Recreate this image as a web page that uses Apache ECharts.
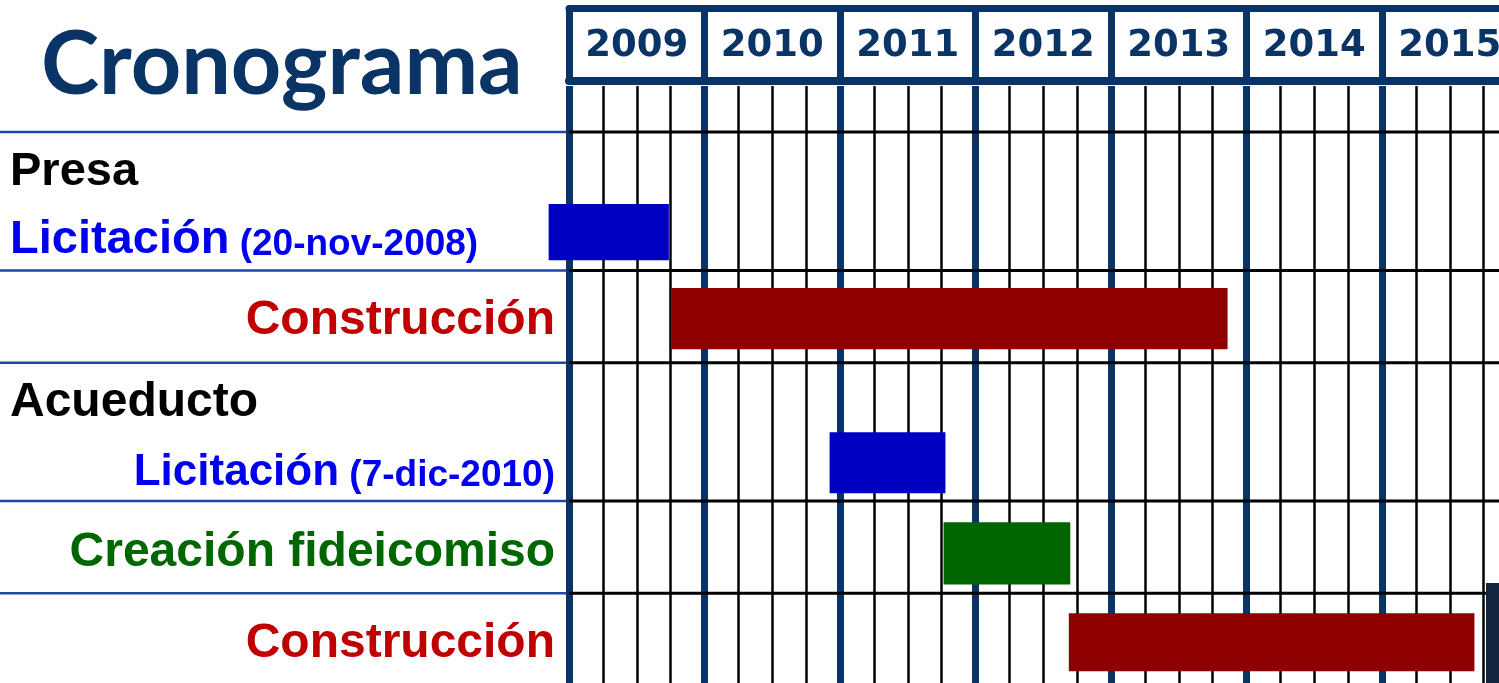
<!DOCTYPE html>
<html><head><meta charset="utf-8">
<script src="https://cdn.jsdelivr.net/npm/echarts@6/dist/echarts.min.js"></script>
<style>html,body{margin:0;padding:0;background:#fff}#c{width:1499px;height:683px}</style>
</head><body><div id="c"></div>
<script>
// ---- data ----
const years = ['2009', '2010', '2011', '2012', '2013', '2014', '2015'];
const taskNames = ['Licitación Presa', 'Construcción Presa', 'Licitación Acueducto', 'Creación fideicomiso', 'Construcción Acueducto'];
const taskStart = ['2008-11-07', '2009-10-04', '2010-12-04', '2011-10-07', '2012-09-09'];
const taskEnd   = ['2009-09-27', '2013-11-11', '2011-10-12', '2012-09-13', '2015-09-07'];
const rowLabels = ['Presa', 'Licitación', 'Construcción', 'Acueducto', 'Licitación', 'Creación fideicomiso', 'Construcción'];
const rowNotes  = ['', '(20-nov-2008)', '', '', '(7-dic-2010)', '', ''];

// ---- layout / style ----
const NAVY = '#0A3366';
const FONT = '"Liberation Sans", Arial, sans-serif';
function decYear(s) {
  const [y, m, d] = s.split('-').map(Number);
  const t0 = Date.UTC(y, 0, 1), t1 = Date.UTC(y + 1, 0, 1);
  return y + (Date.UTC(y, m - 1, d) - t0) / (t1 - t0);
}
// vertical lane units 0..13 on the main y axis
const rowBounds = [1, 4, 6, 9, 11];
const taskBand = [[2.56, 3.78], [4.38, 5.71], [7.51, 8.83], [9.46, 10.81], [11.43, 12.69]];
const taskColor = ['#0000C0', '#8E0000', '#0000C0', '#006400', '#8E0000'];
const labelLayout = [
  { y: 1.82, align: 'left',  color: '#000000', size: 47 },
  { y: 3.3,  align: 'left',  color: '#0000F0', size: 47, noteSize: 37 },
  { y: 5.04, align: 'right', color: '#C00000', size: 48 },
  { y: 6.82, align: 'left',  color: '#000000', size: 48 },
  { y: 8.34, align: 'right', color: '#0000F0', size: 44, noteSize: 37 },
  { y: 10.08, align: 'right', color: '#006600', size: 48 },
  { y: 12.04, align: 'right', color: '#C00000', size: 48 }
];

const GL = 569, GW = 948.5;

const option = {
  animation: false,
  backgroundColor: '#ffffff',
  title: {
    text: 'Cronograma', left: 36, top: 17,
    textStyle: { fontFamily: 'Lato', fontWeight: 'bold', fontSize: 88, color: NAVY, lineHeight: 88 }
  },
  grid: [
    { left: GL, width: GW, top: 8.5, height: 72.5, containLabel: false, outerBoundsMode: 'none' },
    { left: GL, width: GW, top: 85.9, height: 599.7, containLabel: false, outerBoundsMode: 'none' }
  ],
  xAxis: [
    { gridIndex: 0, type: 'category', data: years, position: 'bottom',
      axisLine: { show: true, lineStyle: { color: NAVY, width: 8 } },
      axisTick: { show: false },
      axisLabel: { inside: true, margin: 35, verticalAlign: 'middle', color: NAVY,
        fontFamily: '"DejaVu Sans"', fontWeight: 'bold', fontSize: 37 },
      splitLine: { show: true, interval: 0, lineStyle: { color: NAVY, width: 7 } } },
    { gridIndex: 0, type: 'category', data: years, position: 'top',
      axisLine: { show: true, lineStyle: { color: NAVY, width: 7 } },
      axisTick: { show: false }, axisLabel: { show: false }, splitLine: { show: false } },
    { gridIndex: 1, type: 'value', min: 2009, max: 2016, interval: 0.25,
      axisLine: { show: false }, axisTick: { show: false }, axisLabel: { show: false },
      splitLine: { show: true, lineStyle: { color: '#000000', width: 2.5 } } },
    { gridIndex: 1, type: 'category', data: years, position: 'top',
      axisLine: { show: false }, axisTick: { show: false }, axisLabel: { show: false },
      splitLine: { show: true, interval: 0, lineStyle: { color: NAVY, width: 7 } } }
  ],
  yAxis: [
    { gridIndex: 0, type: 'value', min: 0, max: 1, show: false },
    { gridIndex: 1, type: 'value', min: 0, max: 13, inverse: true, show: false }
  ],
  graphic: [
    { type: 'rect', z: 100, shape: { x: 1486, y: 583, width: 14, height: 100 }, style: { fill: '#13243F' } }
  ],
  series: [
    { // row separators
      type: 'custom', xAxisIndex: 2, yAxisIndex: 1, z: 2, silent: true,
      data: rowBounds.map(v => [2009, v]),
      renderItem: function (params, api) {
        const y = api.coord([2009, api.value(1)])[1];
        const left = params.coordSys.x;
        return { type: 'group', children: [
          { type: 'line', shape: { x1: 0, y1: y, x2: left - 3, y2: y }, style: { stroke: '#1F47A8', lineWidth: 2.5 } },
          { type: 'line', shape: { x1: left, y1: y, x2: api.getWidth(), y2: y }, style: { stroke: '#000000', lineWidth: 3 } }
        ] };
      }
    },
    { // task bars
      type: 'custom', name: 'tareas', xAxisIndex: 2, yAxisIndex: 1, z: 3,
      data: taskNames.map((n, i) => ({ name: n, value: [decYear(taskStart[i]), decYear(taskEnd[i]), i] })),
      renderItem: function (params, api) {
        const i = api.value(2);
        const p0 = api.coord([api.value(0), taskBand[i][0]]);
        const p1 = api.coord([api.value(1), taskBand[i][1]]);
        return { type: 'rect',
          shape: { x: p0[0], y: Math.min(p0[1], p1[1]), width: p1[0] - p0[0], height: Math.abs(p1[1] - p0[1]) },
          style: { fill: taskColor[i] } };
      }
    },
    { // row labels
      type: 'custom', xAxisIndex: 2, yAxisIndex: 1, z: 4, silent: true,
      data: rowLabels.map((t, i) => [2009, labelLayout[i].y, i]),
      renderItem: function (params, api) {
        const i = api.value(2);
        const L = labelLayout[i];
        const y = api.coord([2009, api.value(1)])[1];
        const x = L.align === 'left' ? 10 : params.coordSys.x - 14;
        const text = rowNotes[i] ? '{a|' + rowLabels[i] + '}{b| ' + rowNotes[i] + '}' : '{a|' + rowLabels[i] + '}';
        return { type: 'text', x: x, y: y,
          style: { text: text, align: L.align, verticalAlign: 'middle', fill: L.color,
            rich: {
              a: { fontFamily: FONT, fontWeight: 'bold', fontSize: L.size, fill: L.color, verticalAlign: 'bottom', lineHeight: L.size + 4 },
              b: { fontFamily: FONT, fontWeight: 'bold', fontSize: L.noteSize || L.size, fill: L.color, verticalAlign: 'bottom', lineHeight: L.size + 4 }
            } } };
      }
    }
  ]
};
const chart = echarts.init(document.getElementById('c'), null, { renderer: 'canvas' });
chart.setOption(option);
</script>
</body></html>
